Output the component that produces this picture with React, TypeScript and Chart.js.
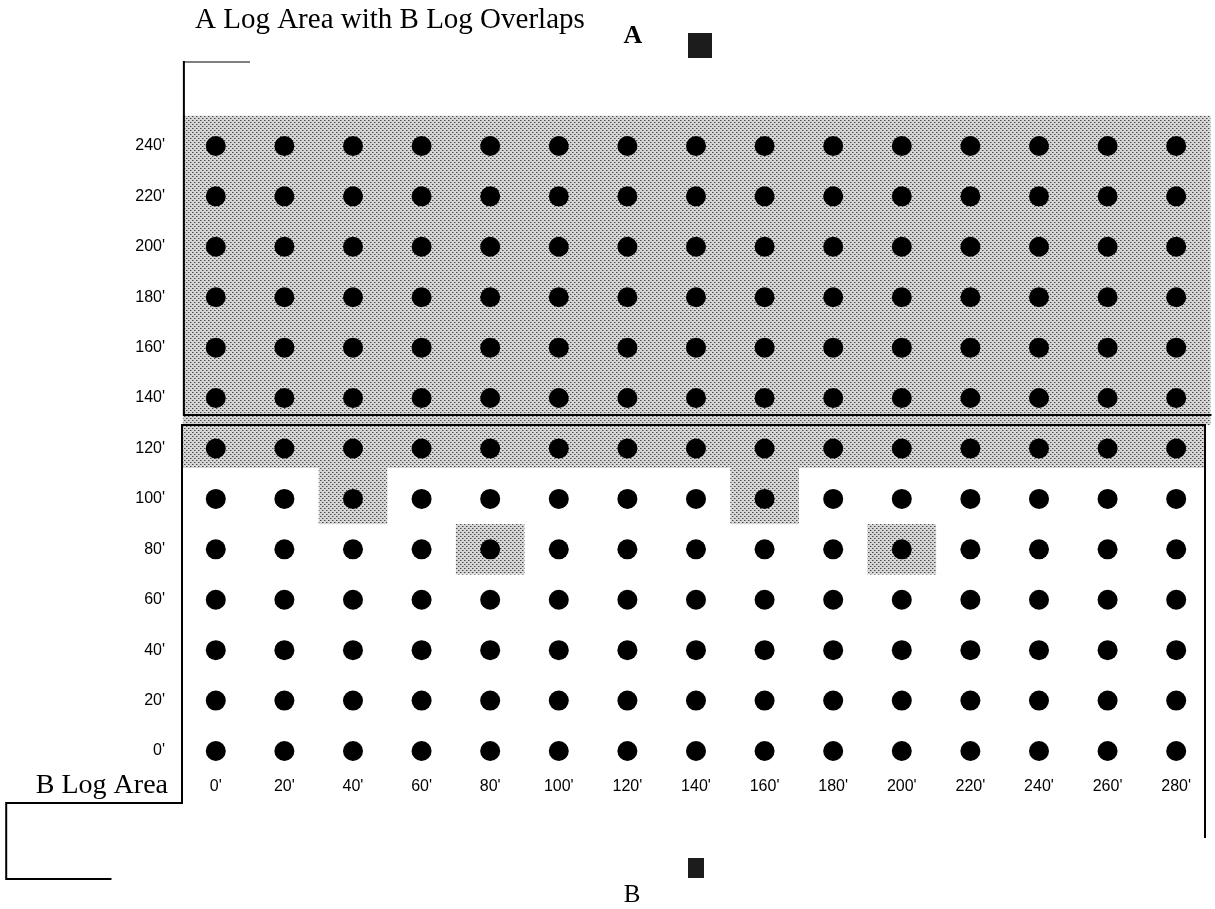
import React, { useEffect, useRef } from "react";
import { Chart, registerables } from "chart.js";

Chart.register(...registerables);

// ---- data ----
const xFeet = [0, 20, 40, 60, 80, 100, 120, 140, 160, 180, 200, 220, 240, 260, 280];
const yFeet = [0, 20, 40, 60, 80, 100, 120, 140, 160, 180, 200, 220, 240];
// A log area extent (feet)
const aAreaX = [-9.6, 290];
const aAreaY = [129.3, 252];
const aBoxBottom = 133.3;
// overlapping B row (shaded part of B log area)
const overlapRowY = [112.3, 129.3];
// isolated overlap cells [x, y]
const overlapCells = [
  [40, 100],
  [160, 100],
  [80, 80],
  [200, 80],
];
const cellHalf = 10;
const title = "A Log Area with B Log Overlaps";
const bLabel = "B Log Area";

const points = yFeet.flatMap((y) => xFeet.map((x) => ({ x, y })));

function makePattern(ctx: CanvasRenderingContext2D) {
  const c = document.createElement("canvas");
  c.width = 4;
  c.height = 4;
  const g = c.getContext("2d")!;
  g.fillStyle = "#d6d6d6";
  g.fillRect(0, 0, 4, 4);
  g.fillStyle = "#454545";
  g.fillRect(0, 0, 1, 1);
  g.fillRect(2, 2, 1, 1);
  g.fillStyle = "#999";
  g.fillRect(1, 0, 1, 1);
  g.fillRect(3, 2, 1, 1);
  return ctx.createPattern(c, "repeat")!;
}

const shadePlugin = {
  id: "shade",
  beforeDatasetsDraw(chart: any) {
    const { ctx, scales } = chart;
    const X = (v: number) => scales.x.getPixelForValue(v);
    const Y = (v: number) => scales.y.getPixelForValue(v);
    const xMin = scales.x.min;
    const xMax = scales.x.max;
    const yMax = scales.y.max;
    ctx.save();
    ctx.fillStyle = makePattern(ctx);
    const rect = (x0: number, x1: number, y0: number, y1: number) => {
      const a = X(x0), b = X(x1), c = Y(y1), d = Y(y0);
      ctx.fillRect(a, c, b - a, d - c);
    };
    rect(aAreaX[0], aAreaX[1], aAreaY[0], aAreaY[1]);
    rect(xMin, xMax, overlapRowY[0], overlapRowY[1]);
    overlapCells.forEach(([cx, cy]) => {
      const top = cy + cellHalf >= overlapRowY[0] - 8 ? overlapRowY[0] : cy + cellHalf;
      rect(cx - cellHalf, cx + cellHalf, cy - cellHalf, top);
    });

    ctx.strokeStyle = "#000";
    ctx.lineCap = "square";
    const line = (pts: number[][], w: number) => {
      ctx.lineWidth = w;
      ctx.beginPath();
      pts.forEach(([x, y], i) => {
        if (i === 0) ctx.moveTo(X(x), Y(y));
        else ctx.lineTo(X(x), Y(y));
      });
      ctx.stroke();
    };
    // A box
    line([[aAreaX[0] + 0.3, yMax], [aAreaX[0] + 0.3, aBoxBottom], [aAreaX[1], aBoxBottom]], 2);
    line([[aAreaX[0] + 0.3, yMax], [9.8, yMax]], 1.2);
    // B box
    line([[xMin, -20.6], [xMin, overlapRowY[1]], [xMax, overlapRowY[1]], [xMax, -34.1]], 2);
    line([[xMin, -20.6], [-61.1, -20.6], [-61.1, -50.8], [-30.7, -50.8]], 2);
    ctx.restore();
  },
  afterDraw(chart: any) {
    const { ctx } = chart;
    ctx.save();
    ctx.fillStyle = "#000";
    ctx.textBaseline = "alphabetic";
    // title
    ctx.font = "29px 'Liberation Serif'";
    ctx.textAlign = "left";
    ctx.fillText(title, 195, 28);
    // legend A
    ctx.font = "bold 26px 'Liberation Serif'";
    ctx.textAlign = "center";
    ctx.fillText("A", 633, 43);
    ctx.fillStyle = "#1c1c1c";
    ctx.fillRect(688, 33, 24, 25);
    // legend B
    ctx.fillStyle = "#000";
    ctx.font = "25px 'Liberation Serif'";
    ctx.fillText("B", 632, 902);
    ctx.fillStyle = "#1c1c1c";
    ctx.fillRect(688, 858, 16, 20);
    // B Log Area label
    ctx.fillStyle = "#000";
    ctx.font = "28px 'Liberation Serif'";
    ctx.textAlign = "right";
    ctx.fillText(bLabel, 168, 793);
    ctx.restore();
  },
};

export default function App() {
  const ref = useRef<HTMLCanvasElement>(null);
  useEffect(() => {
    const canvas = ref.current!;
    const chart = new Chart(canvas, {
      type: "scatter",
      data: {
        datasets: [
          {
            data: points,
            pointRadius: 10,
            pointHoverRadius: 10,
            backgroundColor: "#000",
            borderWidth: 0,
          },
        ],
      },
      options: {
        animation: false,
        responsive: false,
        devicePixelRatio: 1,
        layout: { padding: { top: 62, right: 3, left: 0, bottom: 0 } },
        plugins: { legend: { display: false }, tooltip: { enabled: false }, title: { display: false } },
        scales: {
          x: {
            type: "linear",
            min: -9.85,
            max: 288.4,
            grid: { display: false, drawTicks: false },
            border: { display: false },
            afterBuildTicks: (s: any) => {
              s.ticks = xFeet.map((v) => ({ value: v }));
            },
            afterFit: (s: any) => {
              s.height = 139;
            },
            ticks: {
              autoSkip: false,
              maxRotation: 0,
              padding: 7,
              color: "#000",
              font: { family: "'Liberation Sans', Arial", size: 16 },
              callback: (v: any) => `${v}'`,
            },
          },
          y: {
            type: "linear",
            min: -7.54,
            max: 273.3,
            grid: { display: false, drawTicks: false },
            border: { display: false },
            afterBuildTicks: (s: any) => {
              s.ticks = yFeet.map((v) => ({ value: v }));
            },
            afterFit: (s: any) => {
              s.width = 182;
            },
            ticks: {
              autoSkip: false,
              padding: 17,
              color: "#000",
              font: { family: "'Liberation Sans', Arial", size: 16 },
              callback: (v: any) => `${v}'`,
            },
          },
        },
      },
      plugins: [shadePlugin],
    });
    return () => chart.destroy();
  }, []);
  return (
    <div style={{ position: "absolute", left: 0, top: 0, width: 1215, height: 909, background: "#fff" }}>
      <canvas ref={ref} width={1215} height={909} style={{ display: "block" }} />
    </div>
  );
}
